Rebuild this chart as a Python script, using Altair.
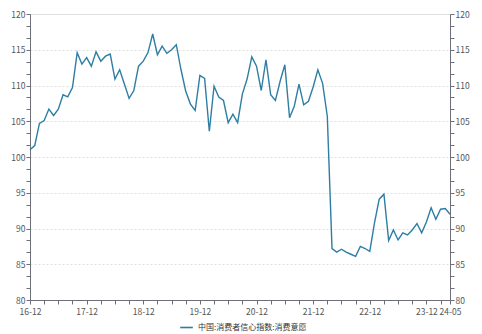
import altair as alt
import pandas as pd

# month labels from 2016-12 to 2024-05
months = []
y, m = 2016, 12
for _ in range(90):
    months.append(f"{str(y)[2:]}-{m:02d}")
    m += 1
    if m > 12:
        m = 1
        y += 1

values = [
    101.0, 101.6, 104.7, 105.1, 106.7, 105.8, 106.7, 108.7, 108.4, 109.7,
    114.6, 113.0, 113.9, 112.7, 114.7, 113.4, 114.1, 114.4, 110.9, 112.2,
    110.2, 108.2, 109.3, 112.7, 113.4, 114.6, 117.2, 114.3, 115.5, 114.5,
    115.0, 115.7, 112.2, 109.2, 107.4, 106.5, 111.4, 111.0, 103.6, 109.9,
    108.4, 107.9, 104.8, 106.0, 104.8, 108.8, 110.9, 114.0, 112.7, 109.3,
    113.6, 108.7, 107.9, 110.6, 112.9, 105.5, 107.1, 110.2, 107.3, 107.8,
    109.8, 112.2, 110.3, 105.7, 87.2, 86.7, 87.1, 86.7, 86.4, 86.1,
    87.5, 87.2, 86.8, 90.8, 94.1, 94.8, 88.3, 89.8, 88.4, 89.4,
    89.1, 89.8, 90.7, 89.4, 90.9, 92.9, 91.3, 92.7, 92.8, 92.0,
]

series_name = "中国:消费者信心指数:消费意愿"

df = pd.DataFrame({
    "i": list(range(len(values))),
    "month": months,
    "value": values,
    "series": [series_name] * len(values),
})

x_ticks = list(range(0, 88, 3)) + [89]
label_idx = [i for i in range(len(months)) if i % 12 == 0] + [89]
label_expr_parts = " : ".join(
    [f"datum.value == {i} ? '{months[i]}'" for i in label_idx]
) + " : ''"

y_ticks = [round(80 + (k * 5) / 3, 4) for k in range(25)]

AXIS_COLOR = "#6e7079"
LABEL_COLOR = "#555555"
FONT = "Noto Sans CJK SC"
LINE_COLOR = "#2d7ea3"

x_enc = alt.X(
    "i:Q",
    scale=alt.Scale(domain=[0, 89], nice=False, zero=False),
    axis=alt.Axis(
        title=None,
        values=x_ticks,
        labelExpr=label_expr_parts,
        labelFlush=False,
        labelOverlap=False,
        grid=False,
        domainColor=AXIS_COLOR,
        tickColor=AXIS_COLOR,
        tickSize=4,
        labelColor=LABEL_COLOR,
        labelFontSize=8.5,
        labelFont=FONT,
        labelPadding=3,
    ),
)

MAJOR = "abs(datum.value - round(datum.value / 5) * 5) < 0.01"

def y_axis(orient, grid):
    return alt.Axis(
        title=None,
        orient=orient,
        values=y_ticks,
        labelExpr=MAJOR + " ? format(datum.value, 'd') : ''",
        grid=grid,
        gridDash=[2, 2],
        gridColor="#e0e0e0",
        gridOpacity={"condition": {"test": MAJOR + " && datum.value > 80", "value": 1}, "value": 0},
        domainColor=AXIS_COLOR,
        tickColor=AXIS_COLOR,
        tickSize=4,
        labelColor=LABEL_COLOR,
        labelFontSize=8.5,
        labelFont=FONT,
        labelPadding=1,
        labelOverlap=False,
        labelBound=False,
    )

y_scale = alt.Scale(domain=[80, 120], nice=False, zero=False)

left = alt.Chart(df).mark_line(strokeWidth=1.4).encode(
    x=x_enc,
    y=alt.Y("value:Q", scale=y_scale, axis=y_axis("left", True)),
    color=alt.Color(
        "series:N",
        scale=alt.Scale(range=[LINE_COLOR]),
        legend=alt.Legend(
            title=None,
            orient="none",
            legendX=149,
            legendY=306,
            direction="horizontal",
            symbolType="stroke",
            symbolSize=160,
            symbolStrokeWidth=1.6,
            labelFont=FONT,
            labelFontSize=8,
            labelColor="#333333",
        ),
    ),
)

right = alt.Chart(df).mark_line(strokeWidth=1.4, opacity=0).encode(
    x=x_enc,
    y=alt.Y("value:Q", scale=y_scale, axis=y_axis("right", False)),
)

chart = (
    alt.layer(left, right)
    .resolve_scale(y="independent")
    .properties(
        width=420,
        height=286,
        padding={"left": 30, "top": 14, "right": 32, "bottom": 34},
        autosize=alt.AutoSizeParams(type="none"),
    )
    .configure_view(stroke=None)
    .configure(background="white")
)

chart.save("out.html", embed_options={"renderer": "svg", "actions": False})
